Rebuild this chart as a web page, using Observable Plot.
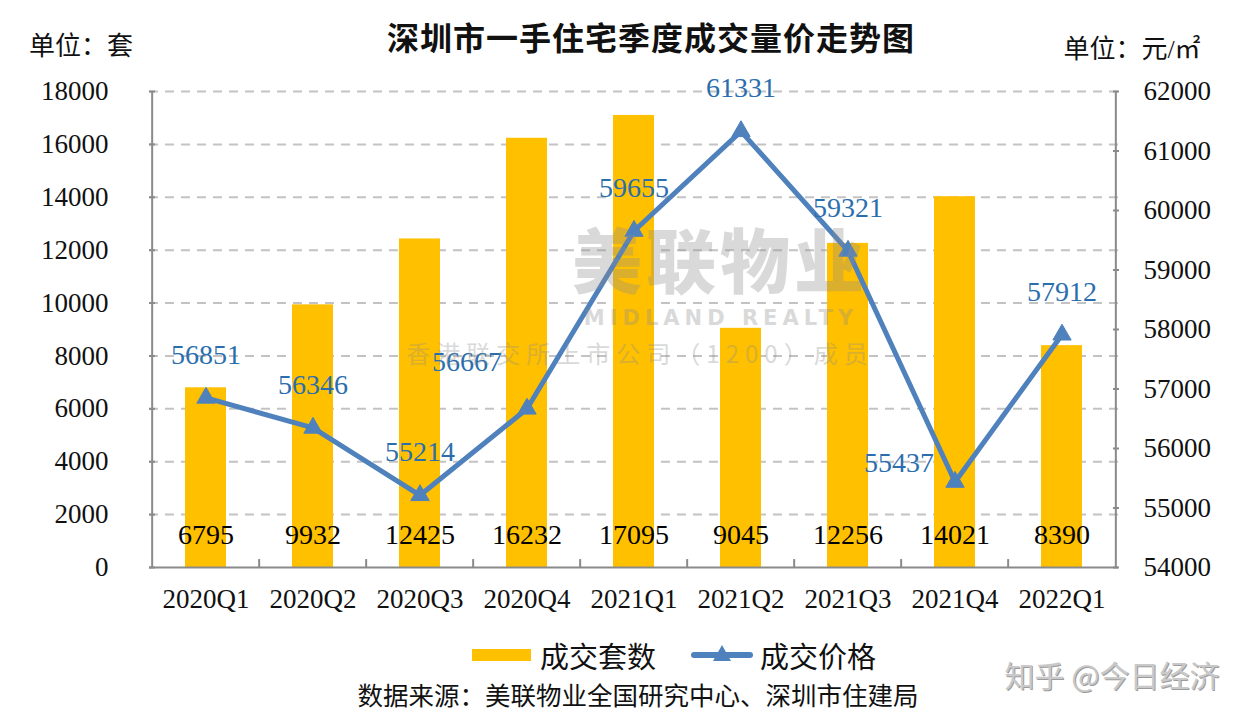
<!DOCTYPE html>
<html>
<head>
<meta charset="utf-8">
<script src="https://cdn.jsdelivr.net/npm/d3@7"></script>
<script src="https://cdn.jsdelivr.net/npm/@observablehq/plot@0.6"></script>
<style>
  html, body { margin: 0; padding: 0; background: #fff; }
  #wrap { position: relative; width: 1247px; height: 723px; overflow: hidden; background: #fff; }
  #chart { position: absolute; left: 0; top: 0; }
  .t { position: absolute; white-space: nowrap; line-height: 1; transform: translate(-50%, -50%); }
  .cjk { font-family: "Liberation Serif", "Noto Sans CJK SC", serif; color: #111; }
  .wm { position: absolute; white-space: nowrap; line-height: 1; transform: translate(-50%, -50%); font-family: "Noto Sans CJK SC", sans-serif; color: #8c8c8c; opacity: 0.32; pointer-events: none; }
</style>
</head>
<body>
<div id="wrap">
  <div id="chart"></div>
  <div class="t cjk" style="left:651px; top:36px; font-size:32px; font-weight:700; font-family:'Noto Sans CJK SC',sans-serif; letter-spacing:1px;">深圳市一手住宅季度成交量价走势图</div>
  <div class="t cjk" style="left:81px; top:47px; font-size:26px;">单位：套</div>
  <div class="t cjk" style="left:1132px; top:50px; font-size:26px;">单位：元/㎡</div>

  <div class="wm" style="left:720px; top:258px; font-size:70px; font-weight:900; letter-spacing:4px;">美联物业</div>
  <div class="wm" style="left:721px; top:318px; font-size:21px; font-weight:900; letter-spacing:5px; font-family:'DejaVu Sans',sans-serif;">MIDLAND REALTY</div>
  <div class="wm" style="left:640px; top:353px; font-size:24px; letter-spacing:6px;">香港联交所上市公司（1200）成员</div>

  <div style="position:absolute; left:472px; top:649px; width:59px; height:12px; background:#FFC000;"></div>
  <div class="t cjk" style="left:598px; top:655px; font-size:29px; font-family:'Noto Sans CJK SC',sans-serif;">成交套数</div>
  <div style="position:absolute; left:691px; top:652px; width:62px; height:6px; background:#4F81BD; border-radius:3px;"></div>
  <div style="position:absolute; left:713px; top:645px; width:0; height:0; border-left:9px solid transparent; border-right:9px solid transparent; border-bottom:16px solid #4F81BD;"></div>
  <div class="t cjk" style="left:818px; top:655px; font-size:29px; font-family:'Noto Sans CJK SC',sans-serif;">成交价格</div>
  <div class="t cjk" style="left:638px; top:694px; font-size:25.5px; font-family:'Noto Sans CJK SC',sans-serif;">数据来源：美联物业全国研究中心、深圳市住建局</div>

  <div class="t" style="left:1112px; top:674px; font-size:30px; font-family:'Noto Sans CJK SC',sans-serif; color:#c9c9c9; text-shadow:1px 1px 0 #9c9c9c;">知乎 @今日经济</div>
</div>
<script>
// ---- data ----
const quarters = ["2020Q1","2020Q2","2020Q3","2020Q4","2021Q1","2021Q2","2021Q3","2021Q4","2022Q1"];
const units = [6795, 9932, 12425, 16232, 17095, 9045, 12256, 14021, 8390];
const prices = [56851, 56346, 55214, 56667, 59655, 61331, 59321, 55437, 57912];
const leftTicks = [0, 2000, 4000, 6000, 8000, 10000, 12000, 14000, 16000, 18000];
const rightTicks = [54000, 55000, 56000, 57000, 58000, 59000, 60000, 61000, 62000];

// ---- layout ----
const W = 1247, H = 723;
const mL = 149, mR = W - 1118, mT = 91, mB = H - 567;
const step = (W - mL - mR) / quarters.length;

const yMin = 0, yMax = 18000, pMin = 54000, pMax = 62000;
const toY = p => (p - pMin) / (pMax - pMin) * (yMax - yMin) + yMin;
const toP = y => (y - yMin) / (yMax - yMin) * (pMax - pMin) + pMin;

const rows = quarters.map((q, i) => ({q, units: units[i], price: prices[i], py: toY(prices[i])}));

// special label placement (layout only)
const nudge = {"2020Q4": [-60, -47], "2021Q4": [-56, -19]};
const normalRows = rows.filter(d => !(d.q in nudge));

const numFont = "'Liberation Serif', 'DejaVu Serif', serif";
const lineColor = "#4F81BD";
const labelBlue = "#2B6EAE";

const marks = [
  Plot.ruleY(leftTicks.filter(v => v > 0), {stroke: "#C3C3C3", strokeWidth: 2, strokeDasharray: "9,7"}),
  Plot.barY(rows, {x: "q", y: "units", fill: "#FFC000"}),
  // category edge ticks (inward)
  Plot.ruleX(quarters.slice(1), {x: d => d, dx: -step / 2, y1: 0, y2: 300, stroke: "#8a8a8a", strokeWidth: 2}),
  // axis lines
  Plot.ruleX([quarters[0]], {x: d => d, dx: -step / 2, y1: 0, y2: yMax, stroke: "#8a8a8a", strokeWidth: 2}),
  Plot.ruleX([quarters[quarters.length - 1]], {x: d => d, dx: step / 2, y1: 0, y2: yMax, stroke: "#8a8a8a", strokeWidth: 2}),
  Plot.ruleY([0], {stroke: "#8a8a8a", strokeWidth: 2}),
  Plot.axisY({anchor: "left", label: null, ticks: leftTicks, tickFormat: d => String(d), tickSize: -6, tickPadding: 47,
    stroke: "#8a8a8a", strokeWidth: 2, fill: "#111", fontSize: 27, fontFamily: numFont}),
  Plot.axisY({anchor: "right", label: null, ticks: rightTicks.map(toY), tickFormat: y => String(Math.round(toP(y))), tickSize: -6, tickPadding: 31,
    stroke: "#8a8a8a", strokeWidth: 2, fill: "#111", fontSize: 27, fontFamily: numFont}),
  Plot.axisX({anchor: "bottom", label: null, tickSize: 0, tickPadding: 21, fill: "#111", fontSize: 27, fontFamily: numFont}),
  // bar value labels
  Plot.text(rows, {x: "q", y: 0, dy: -32, text: d => String(d.units), fill: "#000", fontSize: 28, fontFamily: numFont}),
  // price line
  Plot.line(rows, {x: "q", y: "py", stroke: lineColor, strokeWidth: 5, strokeLinejoin: "round"}),
  Plot.dot(rows, {x: "q", y: "py", symbol: "triangle", r: 6.8, fill: lineColor, stroke: lineColor, strokeWidth: 1}),
  Plot.text(normalRows, {x: "q", y: "py", dy: -43, text: d => String(d.price), fill: labelBlue, fontSize: 28, fontFamily: numFont}),
  ...Object.entries(nudge).map(([q, [dx, dy]]) =>
    Plot.text(rows.filter(d => d.q === q), {x: "q", y: "py", dx, dy, text: d => String(d.price), fill: labelBlue, fontSize: 28, fontFamily: numFont}))
];

const chart = Plot.plot({
  width: W, height: H,
  marginLeft: mL, marginRight: mR, marginTop: mT, marginBottom: mB,
  x: {domain: quarters, paddingInner: 0.62, paddingOuter: 0.31, axis: null, label: null},
  y: {domain: [yMin, yMax], axis: null, label: null},
  style: {fontFamily: numFont, fontSize: "27px", background: "transparent", overflow: "visible"},
  marks
});
document.getElementById("chart").appendChild(chart);
</script>
</body>
</html>
